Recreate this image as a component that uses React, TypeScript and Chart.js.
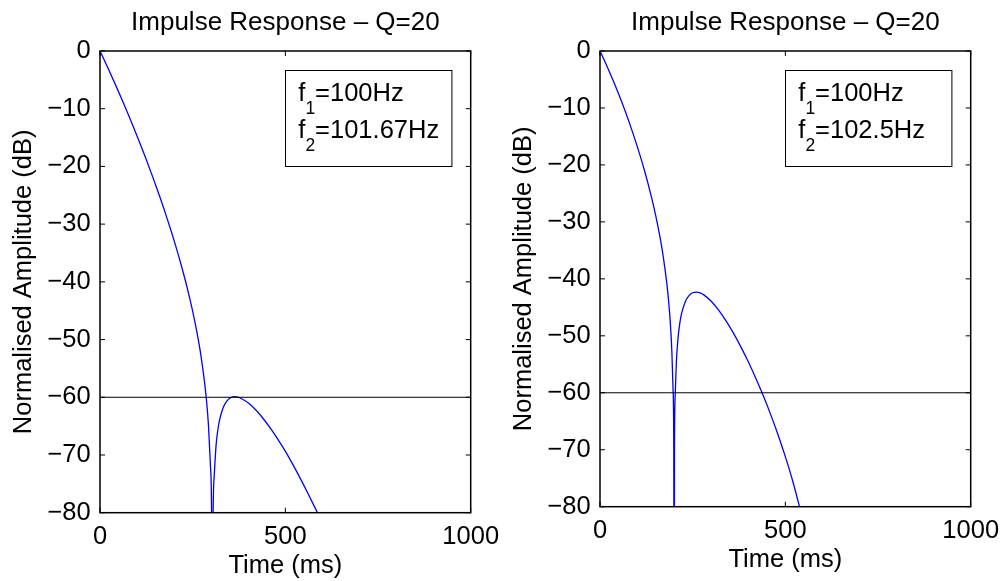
import React, { useEffect, useRef } from "react";
import { Chart, registerables } from "chart.js";

Chart.register(...registerables);

const FONT = '"Liberation Sans", Arial, Helvetica, sans-serif';

// ---- text ----
const chartTitle = "Impulse Response \u2013 Q=20";
const xAxisLabel = "Time (ms)";
const yAxisLabel = "Normalised Amplitude (dB)";

// ---- axes ----
const xRange = [0, 1000];
const xStep = 500;
const yRange = [-80, 0];
const yStep = 10;
const thresholdDb = -60;

// ---- left panel: f1=100Hz, f2=101.67Hz ----
const leftTimesMs = [
  0, 20.2, 40.4, 60.6, 80.8, 101, 121.2, 141.4, 151.5, 161.6, 171.7, 181.8, 191.9,
  202, 212.1, 222.2, 232.3, 242.4, 252.5, 262.6, 272.7, 282.8, 287.9, 292.9, 298,
  301, 303, 305, 308, 312.9, 317.9, 322.8, 332.7, 342.6, 352.5, 362.4, 372.3, 382.2,
  402, 421.8, 441.6, 461.4, 481.2, 501, 520.8, 540.6, 560.4, 580.2, 600,
];
const leftAmplitudeDb = [
  0, -2.78, -5.65, -8.62, -11.7, -14.89, -18.21, -21.68, -23.47, -25.31, -27.21,
  -29.17, -31.19, -33.3, -35.5, -37.82, -40.29, -42.94, -45.84, -49.11, -52.94,
  -57.81, -60.98, -65.18, -71.88, -80.2, -120, -81.4, -73.84, -68.51, -65.67,
  -63.86, -61.73, -60.62, -60.08, -59.9, -59.98, -60.25, -61.08, -62.3, -63.81,
  -65.52, -67.41, -69.45, -71.71, -74.09, -76.58, -79.16, -81.84,
];
const leftLegendF1 = ["f", "1", "=100Hz"];
const leftLegendF2 = ["f", "2", "=101.67Hz"];

// ---- right panel: f1=100Hz, f2=102.5Hz ----
const rightTimesMs = [
  0, 20, 40, 60, 80, 100, 120, 140, 150, 160, 170, 180, 185, 190, 194, 197, 199,
  200, 201, 203, 206, 210, 215, 220, 230, 240, 250, 260, 270, 280, 300, 320, 340,
  360, 380, 400, 420, 440, 460, 480, 500, 520, 540, 550,
];
const rightAmplitudeDb = [
  0, -2.84, -5.89, -9.19, -12.75, -16.65, -20.98, -25.96, -28.8, -32.02, -35.82,
  -40.67, -43.83, -48.02, -53.0, -59.43, -69.24, -120, -69.52, -60.25, -54.64,
  -50.75, -47.92, -46.12, -44.01, -42.94, -42.44, -42.32, -42.47, -42.81, -43.93,
  -45.49, -47.38, -49.54, -51.94, -54.56, -57.4, -60.45, -63.75, -67.31, -71.21,
  -75.54, -80.52, -83.36,
];
const rightLegendF1 = ["f", "1", "=100Hz"];
const rightLegendF2 = ["f", "2", "=102.5Hz"];

const decorPlugin = {
  id: "matlabDecor",
  afterDraw(chart: any, _args: any, opts: any) {
    const { ctx, chartArea: a } = chart;
    const xs = chart.scales.x;
    const ys = chart.scales.y;
    ctx.save();
    // frame
    ctx.strokeStyle = "#000";
    ctx.lineWidth = 1.5;
    ctx.strokeRect(a.left, a.top, a.right - a.left, a.bottom - a.top);
    // inside ticks
    ctx.lineWidth = 1;
    const tl = 5;
    ctx.beginPath();
    xs.ticks.forEach((t: any) => {
      const p = xs.getPixelForValue(t.value);
      ctx.moveTo(p, a.bottom);
      ctx.lineTo(p, a.bottom - tl);
      ctx.moveTo(p, a.top);
      ctx.lineTo(p, a.top + tl);
    });
    ys.ticks.forEach((t: any) => {
      const p = ys.getPixelForValue(t.value);
      ctx.moveTo(a.left, p);
      ctx.lineTo(a.left + tl, p);
      ctx.moveTo(a.right, p);
      ctx.lineTo(a.right - tl, p);
    });
    ctx.stroke();
    // title
    ctx.fillStyle = "#000";
    ctx.font = `26px ${FONT}`;
    ctx.textAlign = "center";
    ctx.textBaseline = "alphabetic";
    ctx.fillText(opts.title, (a.left + a.right) / 2, opts.titleBaseline);
    // legend box
    const bx = a.right - opts.boxRight - opts.boxW;
    const by = a.top + opts.boxTop;
    ctx.fillStyle = "#fff";
    ctx.fillRect(bx, by, opts.boxW, opts.boxH);
    ctx.strokeStyle = "#000";
    ctx.lineWidth = 1;
    ctx.strokeRect(Math.round(bx) + 0.5, Math.round(by) + 0.5, opts.boxW, opts.boxH);
    ctx.fillStyle = "#000";
    ctx.textAlign = "left";
    const lines = opts.lines as string[][];
    lines.forEach((parts, i) => {
      const base = by + opts.firstBaseline + i * opts.lineGap;
      let x = bx + opts.textInset;
      ctx.font = `25.5px ${FONT}`;
      ctx.fillText(parts[0], x, base);
      x += ctx.measureText(parts[0]).width;
      ctx.font = `17.5px ${FONT}`;
      ctx.fillText(parts[1], x, base + 12.5);
      x += ctx.measureText(parts[1]).width;
      ctx.font = `25.5px ${FONT}`;
      ctx.fillText(parts[2], x, base);
    });
    ctx.restore();
  },
};

function buildConfig(p: {
  times: number[];
  values: number[];
  legend: string[][];
  padRight: number;
  xHeight: number;
  xTitlePad: number;
}) {
  const curve = p.times.map((t, i) => ({ x: t, y: p.values[i] }));
  const thresh = xRange.map((x) => ({ x, y: thresholdDb }));
  const minus = (v: any) => String(v).replace("-", "\u2212");
  const tickFont = { family: FONT, size: 25.5 };
  return {
    type: "line" as const,
    data: {
      datasets: [
        {
          data: thresh,
          borderColor: "#000",
          borderWidth: 1,
          pointRadius: 0,
          order: 0,
        },
        {
          data: curve,
          borderColor: "#0000ff",
          borderWidth: 1.3,
          pointRadius: 0,
          cubicInterpolationMode: "monotone" as const,
          order: 1,
        },
      ],
    },
    options: {
      responsive: false,
      animation: false as const,
      events: [],
      layout: { padding: { top: 51, left: 0, right: p.padRight, bottom: 0 } },
      plugins: {
        legend: { display: false },
        tooltip: { enabled: false },
        title: { display: false },
        matlabDecor: {
          title: chartTitle,
          titleBaseline: 30,
          lines: p.legend,
          boxRight: 19.5,
          boxTop: 18.7,
          boxW: 166.4,
          boxH: 96,
          textInset: 13.5,
          firstBaseline: 31.6,
          lineGap: 36.8,
        },
      },
      scales: {
        x: {
          type: "linear" as const,
          min: xRange[0],
          max: xRange[1],
          grid: { display: false, drawTicks: false },
          border: { display: false },
          ticks: {
            stepSize: xStep,
            color: "#000",
            padding: 8.5,
            maxRotation: 0,
            font: tickFont,
            callback: minus,
          },
          title: {
            display: true,
            text: xAxisLabel,
            color: "#000",
            font: tickFont,
            padding: { top: 0, bottom: p.xTitlePad },
          },
          afterFit: (s: any) => {
            s.height = p.xHeight;
            s.paddingLeft = 0;
            s.paddingRight = 0;
          },
        },
        y: {
          type: "linear" as const,
          min: yRange[0],
          max: yRange[1],
          grid: { display: false, drawTicks: false },
          border: { display: false },
          ticks: {
            stepSize: yStep,
            color: "#000",
            padding: 9.3,
            font: tickFont,
            callback: minus,
          },
          title: {
            display: true,
            text: yAxisLabel,
            color: "#000",
            font: tickFont,
            padding: { top: 8.3, bottom: 0 },
          },
          afterFit: (s: any) => {
            s.width = 100;
            s.paddingTop = 0;
            s.paddingBottom = 0;
          },
        },
      },
    },
    plugins: [decorPlugin],
  };
}

export default function App() {
  const leftRef = useRef<HTMLCanvasElement>(null);
  const rightRef = useRef<HTMLCanvasElement>(null);

  useEffect(() => {
    const left = new Chart(
      leftRef.current as HTMLCanvasElement,
      buildConfig({
        times: leftTimesMs,
        values: leftAmplitudeDb,
        legend: [leftLegendF1, leftLegendF2],
        padRight: 29.3,
        xHeight: 68.3,
        xTitlePad: 0,
      }) as any
    );
    const right = new Chart(
      rightRef.current as HTMLCanvasElement,
      buildConfig({
        times: rightTimesMs,
        values: rightAmplitudeDb,
        legend: [rightLegendF1, rightLegendF2],
        padRight: 34.3,
        xHeight: 74.3,
        xTitlePad: 5.7,
      }) as any
    );
    return () => {
      left.destroy();
      right.destroy();
    };
  }, []);

  return (
    <div
      style={{
        position: "fixed",
        left: 0,
        top: 0,
        width: 1005,
        height: 581,
        background: "#fff",
        overflow: "hidden",
      }}
    >
      <canvas
        ref={leftRef}
        width={500}
        height={581}
        style={{ position: "absolute", left: 0, top: 0, width: 500, height: 581 }}
      />
      <canvas
        ref={rightRef}
        width={505}
        height={581}
        style={{ position: "absolute", left: 500, top: 0, width: 505, height: 581 }}
      />
    </div>
  );
}
